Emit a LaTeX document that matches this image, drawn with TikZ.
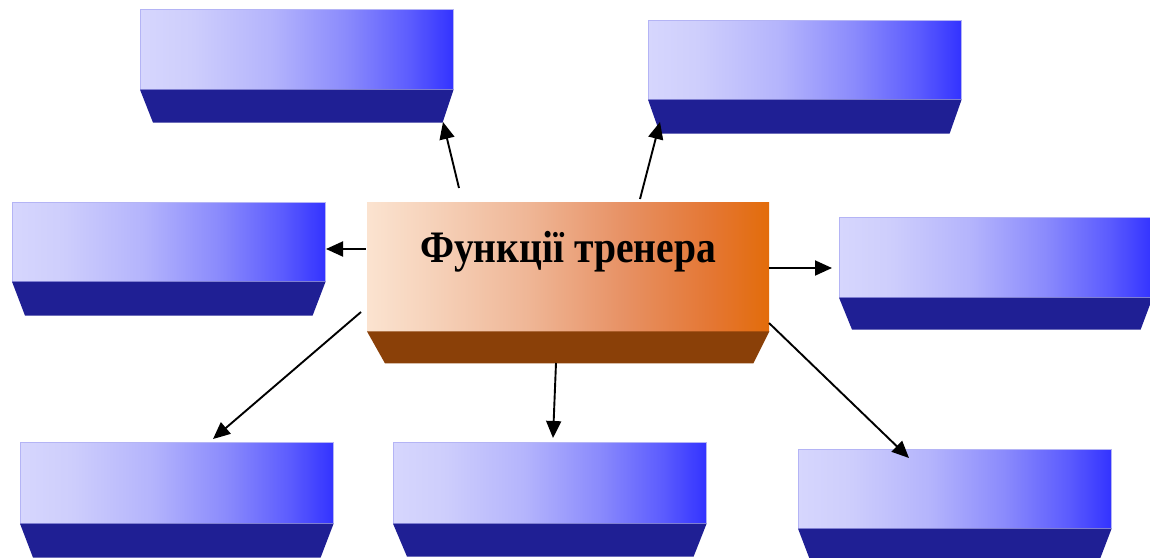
\documentclass[tikz,border=0pt]{standalone}
\usepackage{fontspec}
\setmainfont{Liberation Serif}
\usetikzlibrary{arrows.meta,calc}
\definecolor{bA}{RGB}{214,214,253}
\definecolor{bB}{RGB}{206,206,252}
\definecolor{bC}{RGB}{180,180,252}
\definecolor{bD}{RGB}{138,138,252}
\definecolor{bE}{RGB}{92,92,254}
\definecolor{bF}{RGB}{51,51,255}
\definecolor{navy}{RGB}{31,31,148}
\definecolor{edgeblue}{RGB}{180,180,245}
\definecolor{oA}{RGB}{251,227,208}
\definecolor{oB}{RGB}{246,210,186}
\definecolor{oC}{RGB}{239,182,150}
\definecolor{oD}{RGB}{231,145,100}
\definecolor{oE}{RGB}{228,118,50}
\definecolor{oF}{RGB}{227,108,10}
\definecolor{brown}{RGB}{138,64,8}
\pgfdeclarehorizontalshading{blueface}{100bp}{color(0bp)=(bA); color(25bp)=(bA); color(33bp)=(bB); color(46bp)=(bC); color(58bp)=(bD); color(68bp)=(bE); color(75bp)=(bF); color(100bp)=(bF)}
\pgfdeclarehorizontalshading{orangeface}{100bp}{color(0bp)=(oA); color(25bp)=(oA); color(33bp)=(oB); color(45bp)=(oC); color(57bp)=(oD); color(68bp)=(oE); color(75bp)=(oF); color(100bp)=(oF)}
\newcommand{\trapez}[5]{%
  \fill[#5] (#1.south west) -- (#1.south east) -- ($(#1.south east)+(-#3,#4)$) -- ($(#1.south west)+(#2,#4)$) -- cycle;}
\begin{document}
\begin{tikzpicture}[x=1pt,y=-1pt,
  bluebox/.style={shading=blueface, draw=edgeblue, line width=0.6pt, inner sep=0pt,
    minimum width=313pt, minimum height=80pt, anchor=north west},
  centerbox/.style={shading=orangeface, inner sep=0pt,
    minimum width=402pt, minimum height=129pt, anchor=north west},
  conn/.style={draw=black, line width=1.9pt, -{Triangle[length=17pt,width=15pt]}},
  title/.style={font=\fontsize{45}{50}\selectfont\bfseries}]
\useasboundingbox (0,0) rectangle (1150,557);
% blue boxes
\node[bluebox] (tl) at (140,9) {};
\node[bluebox, minimum height=79pt] (tr) at (648,20) {};
\node[bluebox, minimum height=79pt] (l) at (12,202) {};
\node[bluebox] (r) at (839,217) {};
\node[bluebox, minimum height=81pt] (bl) at (20,442) {};
\node[bluebox, minimum height=81pt] (bm) at (393,442) {};
\node[bluebox, minimum height=79pt] (br) at (798,449) {};
\trapez{tl}{13}{11}{33}{navy}
\trapez{tr}{12}{12}{34}{navy}
\trapez{l}{13}{13}{34}{navy}
\trapez{r}{13}{12}{32}{navy}
\trapez{bl}{13}{13}{34}{navy}
\trapez{bm}{14}{13}{33}{navy}
\trapez{br}{13}{13}{34}{navy}
% central box
\node[centerbox] (c) at (367,202) {};
\trapez{c}{18}{16}{32}{brown}
\node[title, anchor=base] (ct) at (568,262) {\scalebox{0.88}[1]{Функції тренера}};
% connector ends
\coordinate (s1) at (459,188); \coordinate (e1) at (443,122);
\coordinate (s2) at (640,199); \coordinate (e2) at (660,122);
\coordinate (s3) at (366,249); \coordinate (e3) at (326,249);
\coordinate (s4) at (769,268); \coordinate (e4) at (832,268);
\coordinate (s5) at (361,312); \coordinate (e5) at (213,439);
\coordinate (s6) at (556,363); \coordinate (e6) at (553,438);
\coordinate (s7) at (769,323); \coordinate (e7) at (909,458);
\draw[conn] (s1) -- (e1);
\draw[conn] (s2) -- (e2);
\draw[conn] (s3) -- (e3);
\draw[conn] (s4) -- (e4);
\draw[conn] (s5) -- (e5);
\draw[conn] (s6) -- (e6);
\draw[conn] (s7) -- (e7);
\end{tikzpicture}
\end{document}
